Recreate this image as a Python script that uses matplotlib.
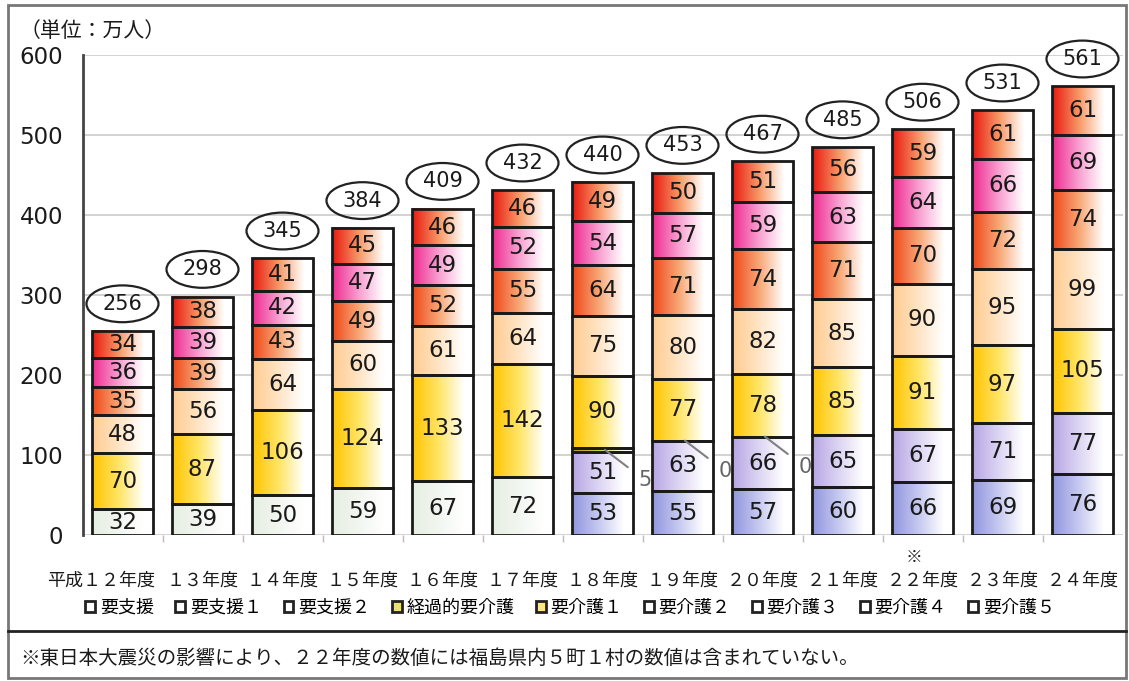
import numpy as np
import matplotlib
matplotlib.use("Agg")
import matplotlib.pyplot as plt
import matplotlib.transforms as mtransforms
from matplotlib.colors import LinearSegmentedColormap
from matplotlib.patches import Ellipse, Patch, Rectangle
from matplotlib.lines import Line2D

plt.rcParams['font.family'] = ['Noto Sans CJK JP', 'DejaVu Sans']

# 要介護（要支援）認定者数の推移（単位：万人）
years = ['平成１２年度', '１３年度', '１４年度', '１５年度', '１６年度', '１７年度',
         '１８年度', '１９年度', '２０年度', '２１年度', '２２年度', '２３年度', '２４年度']
totals = [256, 298, 345, 384, 409, 432, 440, 453, 467, 485, 506, 531, 561]

series_names = ['要支援', '要支援１', '要支援２', '経過的要介護', '要介護１',
                '要介護２', '要介護３', '要介護４', '要介護５']

yoshien = [32, 39, 50, 59, 67, 72, None, None, None, None, None, None, None]
yoshien1 = [None, None, None, None, None, None, 53, 55, 57, 60, 66, 69, 76]
yoshien2 = [None, None, None, None, None, None, 51, 63, 66, 65, 67, 71, 77]
keika = [None, None, None, None, None, None, 5, 0, 0, None, None, None, None]
kaigo1 = [70, 87, 106, 124, 133, 142, 90, 77, 78, 85, 91, 97, 105]
kaigo2 = [48, 56, 64, 60, 61, 64, 75, 80, 82, 85, 90, 95, 99]
kaigo3 = [35, 39, 43, 49, 52, 55, 64, 71, 74, 71, 70, 72, 74]
kaigo4 = [36, 39, 42, 47, 49, 52, 54, 57, 59, 63, 64, 66, 69]
kaigo5 = [34, 38, 41, 45, 46, 46, 49, 50, 51, 56, 59, 61, 61]

stack = [yoshien, yoshien1, yoshien2, keika, kaigo1, kaigo2, kaigo3, kaigo4, kaigo5]

# left edge colour, middle colour -> fades to white on the right
grad_colors = [
    ('#e6eee2', '#f2f6f0'),
    ('#9096dc', '#c8caef'),
    ('#b6a6e4', '#ddd6f3'),
    ('#b0a010', '#d8d040'),
    ('#ffc400', '#ffe56a'),
    ('#ffcb90', '#ffe5c6'),
    ('#ee4818', '#f8a878'),
    ('#ee2a90', '#f8a2d2'),
    ('#e61a10', '#f79a68'),
]
legend_faces = ['white', 'white', 'white', '#e8e070', '#ffe680',
                'white', 'white', 'white', 'white']

cmaps = [LinearSegmentedColormap.from_list('g%d' % k, [(0, c0), (0.45, c1), (0.85, 'white'), (1, 'white')])
         for k, (c0, c1) in enumerate(grad_colors)]

W, H = 1129, 681
fig = plt.figure(figsize=(W / 100, H / 100), dpi=100)
ax = fig.add_axes([82.5 / W, 1 - 535 / H, 1040 / W, 480 / H])

n = len(years)
w = 0.76
grad = np.linspace(0, 1, 256).reshape(1, -1)
num_font = dict(family='DejaVu Sans', color='#1a1a1a')

for i in range(n):
    bottom = 0
    for s, vals in enumerate(stack):
        v = vals[i]
        if v is None:
            continue
        if v > 0:
            ax.imshow(grad, cmap=cmaps[s], extent=[i - w / 2, i + w / 2, bottom, bottom + v],
                      aspect='auto', interpolation='bilinear', zorder=2)
            ax.add_patch(Rectangle((i - w / 2, bottom), w, v, fill=False,
                                   ec='#1a1a1a', lw=2, zorder=3))
        if s == 3:
            y0 = bottom + v / 2
            ax.annotate(str(v), xy=(i + 0.03, y0), xytext=(i + 0.53, y0 - 38),
                        ha='center', va='center', fontsize=15, family='DejaVu Sans',
                        color='#666666', zorder=4,
                        arrowprops=dict(arrowstyle='-', color='#808080', lw=1.5,
                                        shrinkA=7, shrinkB=0))
        elif v >= 20:
            ax.text(i, bottom + v / 2, str(v), ha='center', va='center',
                    fontsize=16.5, zorder=4, **num_font)
        bottom += v
    # total in an ellipse above the bar
    ax.add_patch(Ellipse((i, bottom + 34), 0.9, 46, fill=False, ec='#222222',
                         lw=1.6, clip_on=False, zorder=4))
    ax.text(i, bottom + 34, str(totals[i]), ha='center', va='center',
            fontsize=15, zorder=5, clip_on=False, **num_font)

ax.set_xlim(-0.5, n - 0.5)
ax.set_ylim(0, 600)
ax.set_yticks(range(0, 601, 100))
ax.set_yticklabels([str(t) for t in range(0, 601, 100)], family='DejaVu Sans',
                   fontsize=16.5, color='#1a1a1a')
ax.tick_params(axis='y', length=0, pad=14)
ax.set_xticks([])
ax.set_xticks(np.arange(n - 1) + 0.5, minor=True)
ax.tick_params(axis='x', which='minor', length=5, color='#bbbbbb', width=1)
ax.yaxis.grid(True, color='#cfcfcf', lw=1.3)
ax.set_axisbelow(True)
for side in ['top', 'right', 'bottom']:
    ax.spines[side].set_visible(False)
ax.spines['left'].set_color('#444444')
ax.spines['left'].set_linewidth(2)

# category labels under the bars
trans = mtransforms.blended_transform_factory(ax.transData, fig.transFigure)
for i, label in enumerate(years):
    if i == 0:
        ax.text(i + 0.41, 1 - 581 / H, label, ha='right', va='center', fontsize=13,
                transform=trans, color='#1a1a1a')
    else:
        ax.text(i, 1 - 581 / H, label, ha='center', va='center', fontsize=13,
                transform=trans, color='#1a1a1a')
ax.text(9.9, 1 - 557 / H, '※', ha='center', va='center', fontsize=12,
        transform=trans, color='#1a1a1a')

handles = [Patch(facecolor=legend_faces[k], edgecolor='#222222', linewidth=2)
           for k in range(len(series_names))]
fig.legend(handles, series_names, loc='center', bbox_to_anchor=(570 / W, 1 - 608 / H),
           ncol=9, frameon=False, fontsize=13, handlelength=0.55, handleheight=0.55,
           handletextpad=0.25, columnspacing=1.2, borderaxespad=0, borderpad=0)

fig.text(20 / W, 1 - 31 / H, '（単位：万人）', fontsize=15, va='center', color='#1a1a1a')
fig.text(20 / W, 1 - 658 / H,
         '※東日本大震災の影響により、２２年度の数値には福島県内５町１村の数値は含まれていない。',
         fontsize=14, va='center', color='#1a1a1a')

# outer frame and the footnote divider
fig.add_artist(Rectangle((8 / W, 1 - 678 / H), 1118 / W, 673 / H, transform=fig.transFigure,
                         fill=False, ec='#777777', lw=2))
fig.add_artist(Line2D([8 / W, 1126 / W], [1 - 631 / H, 1 - 631 / H], transform=fig.transFigure,
                      color='#222222', lw=2))

fig.savefig('out.png', dpi=100)
